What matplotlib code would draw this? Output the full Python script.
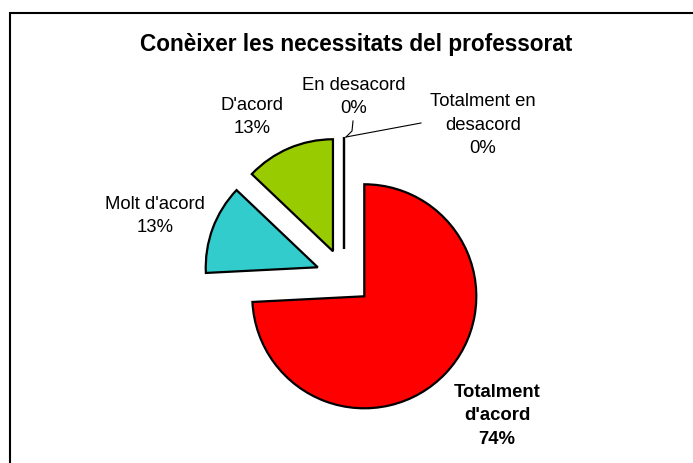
import matplotlib
matplotlib.use("Agg")
import matplotlib.pyplot as plt
from matplotlib.patches import Rectangle

title = "Conèixer les necessitats del professorat"
categories = ["Totalment d'acord", "Molt d'acord", "D'acord", "En desacord", "Totalment en desacord"]
values = [23, 4, 4, 0, 0]
colors = ["#FF0000", "#33CCCC", "#99CC00", "#FFFFFF", "#FFFFFF"]
label_texts = ["Totalment\nd'acord", "Molt d'acord", "D'acord", "En desacord", "Totalment en\ndesacord"]

W, H = 693, 463
fig = plt.figure(figsize=(W / 100, H / 100), dpi=100)
ax = fig.add_axes([0, 0, 1, 1])

def py(y):
    return H - y

FONT = "Liberation Sans"

# frame
ax.add_patch(Rectangle((9.5, py(700)), 800, 700 - 12.5, fill=False, edgecolor="black", linewidth=1.5, zorder=0))

ax.text(356, py(51), title, ha="center", va="baseline", fontsize=16.3, fontweight="bold", family=FONT)

R = 112
ax.pie(values, colors=colors, startangle=90, counterclock=False,
       explode=[0.25 * R] * len(values), center=(344, py(277)), radius=R,
       wedgeprops=dict(edgecolor="black", linewidth=1.6), frame=True)
ax.set_xlim(0, W)
ax.set_ylim(0, H)
ax.set_aspect("equal")
ax.axis("off")

total = sum(values)
pct = [f"{round(v / total * 100)}%" for v in values]

label_pos = [(497, 416), (155, 216), (252, 117), (354, 97), (483, 125)]
for i, (x, y) in enumerate(label_pos):
    ax.text(x, py(y), f"{label_texts[i]}\n{pct[i]}", ha="center", va="center",
            fontsize=13.3, family=FONT, linespacing=1.5,
            fontweight="bold" if i == 0 else "normal")

# leader lines
ax.plot([353, 352, 346], [py(121), py(131), py(137)], color="black", linewidth=0.8)
ax.plot([421, 346], [py(123), py(137)], color="black", linewidth=0.8)

fig.savefig("out.png", dpi=100)
